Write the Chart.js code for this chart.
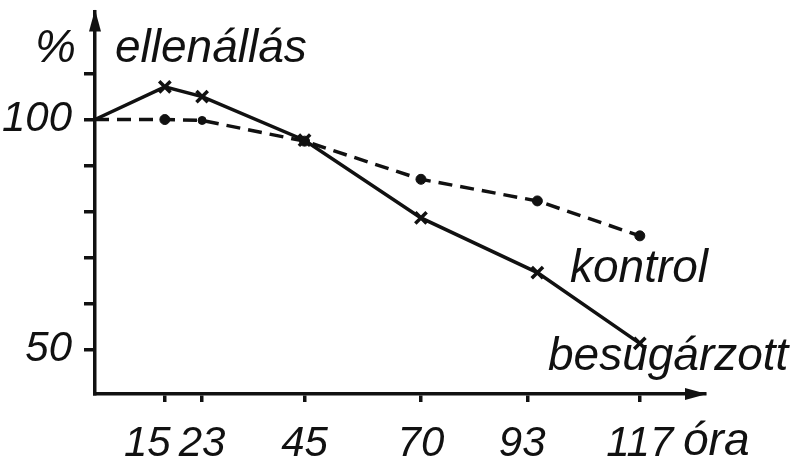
<!DOCTYPE html>
<html lang="hu">
<head>
<meta charset="UTF-8">
<title>ellenállás – óra</title>
<script src="https://cdn.jsdelivr.net/npm/chart.js"></script>
<style>
  body { margin: 0; background: #ffffff; }
  canvas { display: block; }
</style>
</head>
<body>
<canvas id="resChart" width="807" height="462"></canvas>
<script>
// adatok (leolvasva az ábráról)
const hoursKontrol = [0, 15, 23, 45, 70, 95, 117];
const kontrolValues = [100, 100, 99.8, 95.3, 87.0, 82.3, 74.7];
const hoursBesugarzott = [0, 15, 23, 45, 70, 95, 117];
const besugarzottValues = [100, 107.1, 105.0, 95.5, 78.6, 66.7, 51.3];

const xTickValues = [15, 23, 45, 70, 93, 117];
const xTickLabels = ['15\u00a0\u00a0\u00a0', '23', '45', '70', '93\u00a0', '117'];
const yTickValues = [50, 60, 70, 80, 90, 100, 110];
const yTickLabels = { 50: '50', 100: '100' };

const FAMILY = '"Liberation Sans", Arial, sans-serif';
const INK = '#111111';

function toPoints(xs, ys) {
  return xs.map((x, i) => ({ x: x, y: ys[i] }));
}

// tengelyek nyilai + feliratok
const annotate = {
  id: 'annotate',
  afterDraw(chart) {
    const ctx = chart.ctx;
    const a = chart.chartArea;
    ctx.save();
    ctx.fillStyle = INK;
    // nyilak
    ctx.beginPath();
    ctx.moveTo(a.left, a.top - 2);
    ctx.lineTo(a.left - 6, a.top + 20);
    ctx.lineTo(a.left + 6, a.top + 20);
    ctx.closePath();
    ctx.fill();
    ctx.beginPath();
    ctx.moveTo(a.right + 2, a.bottom);
    ctx.lineTo(a.right - 20, a.bottom - 6);
    ctx.lineTo(a.right - 20, a.bottom + 6);
    ctx.closePath();
    ctx.fill();
    // feliratok
    ctx.font = 'italic 46px ' + FAMILY;
    ctx.textBaseline = 'alphabetic';
    ctx.textAlign = 'left';
    ctx.fillText('%', 35, 62);
    ctx.fillText('ellenállás', 115, 62);
    ctx.fillText('kontrol', 570, 282);
    ctx.fillText('besugárzott', 548, 370);
    ctx.fillText('óra', 683, 455);
    ctx.restore();
  }
};

new Chart(document.getElementById('resChart').getContext('2d'), {
  type: 'scatter',
  data: {
    datasets: [
      {
        label: 'besugárzott',
        data: toPoints(hoursBesugarzott, besugarzottValues),
        showLine: true,
        borderColor: INK,
        borderWidth: 3.5,
        pointStyle: 'crossRot',
        pointRadius: [0, 8, 8, 8, 8, 8, 8],
        pointBorderWidth: 3.5,
        pointBorderColor: INK,
        pointBackgroundColor: INK,
        clip: false
      },
      {
        label: 'kontrol',
        data: toPoints(hoursKontrol, kontrolValues),
        showLine: true,
        borderColor: INK,
        borderWidth: 3.5,
        borderDash: [14, 8],
        pointStyle: 'circle',
        pointRadius: [0, 5, 4, 5, 5, 5, 5],
        pointBorderWidth: 1,
        pointBorderColor: INK,
        pointBackgroundColor: INK,
        clip: false
      }
    ]
  },
  options: {
    responsive: false,
    animation: false,
    layout: { padding: { top: 10, right: 102, left: 0, bottom: 0 } },
    plugins: {
      legend: { display: false },
      tooltip: { enabled: false },
      title: { display: false }
    },
    scales: {
      x: {
        type: 'linear',
        position: 'bottom',
        min: 0,
        max: 131,
        afterBuildTicks: s => { s.ticks = xTickValues.map(v => ({ value: v })); },
        afterFit: s => { s.height = 68; },
        border: { display: true, color: INK, width: 3.5 },
        grid: { drawOnChartArea: false, drawTicks: true, tickLength: 8, color: INK, lineWidth: 3.5 },
        ticks: {
          color: INK,
          font: { family: FAMILY, size: 42, style: 'italic' },
          padding: 17,
          maxRotation: 0,
          autoSkip: false,
          callback: (v, i) => xTickLabels[i]
        }
      },
      y: {
        type: 'linear',
        min: 40.3,
        max: 123.5,
        afterBuildTicks: s => { s.ticks = yTickValues.map(v => ({ value: v })); },
        afterFit: s => {
          s.width = 95;
          s.paddingTop = 0;
          s.paddingBottom = 0;
        },
        border: { display: true, color: INK, width: 3.5 },
        grid: { drawOnChartArea: false, drawTicks: true, tickLength: 11, color: INK, lineWidth: 3.5 },
        ticks: {
          color: INK,
          font: { family: FAMILY, size: 42, style: 'italic' },
          padding: 12,
          autoSkip: false,
          callback: v => yTickLabels[v] || ''
        }
      }
    }
  },
  plugins: [annotate]
});
</script>
</body>
</html>
